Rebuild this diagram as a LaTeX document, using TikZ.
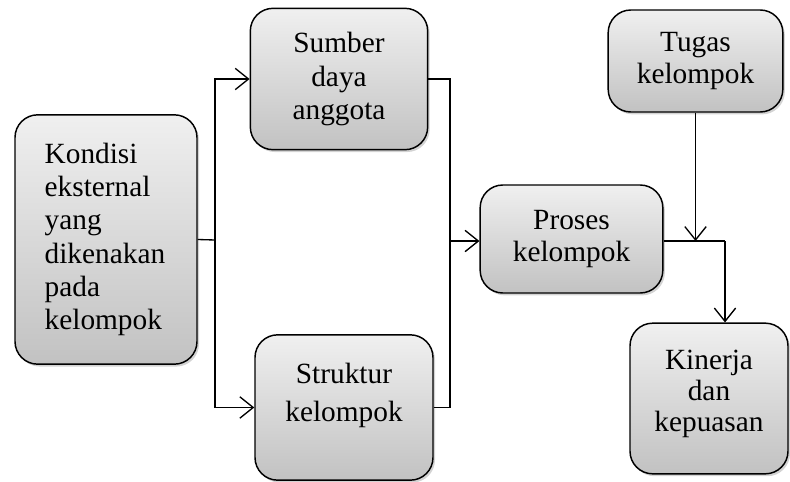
\documentclass[tikz,border=0pt]{standalone}
\usepackage{fontspec}
\setmainfont{Liberation Serif}
\usetikzlibrary{shapes,arrows,arrows.meta,shadows}

\tikzset{
  box/.style={rectangle, rounded corners=17pt, draw=black, line width=1.1pt,
              top color=white!94!black, bottom color=white!76!black,
              drop shadow={shadow xshift=1.5pt, shadow yshift=-1.8pt, opacity=0.35},
              inner sep=0pt, align=center},
  link/.style={line width=1pt},
  arr/.style={line width=1pt, -{Straight Barb[length=10pt,width=16pt,line width=1pt]}}
}

\begin{document}
\begin{tikzpicture}[x=0.75pt, y=-0.75pt]

 \useasboundingbox (0,0) rectangle (790,482);

 % boxes
 \node[box, minimum width=136.5pt, minimum height=187pt, text width=92pt, align=left,
       font=\fontsize{22}{25}\selectfont]
   (kondisi) at (106,239.5) {Kondisi\\eksternal\\yang\\dikenakan\\pada\\kelompok};
 \node[box, minimum width=133pt, minimum height=106pt, font=\fontsize{22}{25}\selectfont]
   (sumber) at (339,79) {Sumber\\daya\\anggota};
 \node[box, minimum width=133.5pt, minimum height=109pt, text depth=22.5pt,
       font=\fontsize{22}{28.5}\selectfont]
   (struktur) at (344,407.5) {Struktur\\kelompok};
 \node[box, minimum width=137pt, minimum height=81pt, font=\fontsize{22}{24}\selectfont]
   (proses) at (571.5,239) {Proses\\kelompok};
 \node[box, minimum width=131pt, minimum height=76.5pt, font=\fontsize{22}{24}\selectfont]
   (tugas) at (695.5,61) {Tugas\\kelompok};
 \node[box, minimum width=118.5pt, minimum height=113pt, text depth=11.3pt,
       font=\fontsize{22}{23.3}\selectfont]
   (kinerja) at (709,398.5) {Kinerja\\dan\\kepuasan};

 % junctions
 \coordinate (ja) at (215,240);
 \coordinate (jb) at (450,241);
 \coordinate (jc) at (725,241);

 % connectors
 \draw[link] (kondisi.east) -- (ja);
 \draw[arr] (ja) |- (sumber.west);
 \draw[arr] (ja) |- (struktur.west);

 \draw[link] (sumber.east) -| (jb);
 \draw[link] (struktur.east) -| (jb);
 \draw[arr] (jb) -- (jb -| proses.west);

 \draw[link] (proses.east |- jc) -- (jc);
 \draw[arr] (jc) -- (jc |- kinerja.north);
 \draw[arr] (tugas.south) -- (tugas.south |- jc);

\end{tikzpicture}
\end{document}
